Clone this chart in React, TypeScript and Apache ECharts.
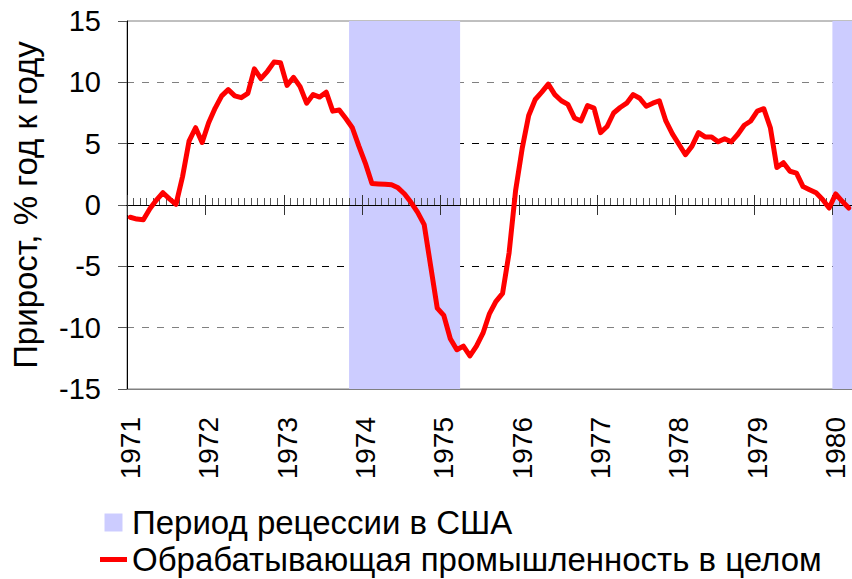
import React, { useEffect, useRef } from 'react';
import * as echarts from 'echarts';

const YEARS = [1971, 1972, 1973, 1974, 1975, 1976, 1977, 1978, 1979, 1980];
const MONTHS = ['01', '02', '03', '04', '05', '06', '07', '08', '09', '10', '11', '12'];

const SERIES_NAME = 'Обрабатывающая промышленность в целом';
const RECESSION_NAME = 'Период рецессии в США';
const Y_TITLE = 'Прирост, % год к году';

// monthly growth, % y/y, Jan 1971 .. Mar 1980
const GROWTH = [
  -1.0, -1.15, -1.2, -0.3, 0.4, 1.0, 0.5, 0.05, 2.3, 5.2, 6.3, 5.1,
  6.7, 7.9, 8.9, 9.4, 8.9, 8.75, 9.1, 11.1, 10.3, 10.9, 11.65, 11.6,
  9.75, 10.4, 9.65, 8.3, 9.0, 8.8, 9.2, 7.65, 7.75, 7.05, 6.3, 4.8,
  3.4, 1.75, 1.72, 1.7, 1.65, 1.4, 0.9, 0.2, -0.6, -1.6, -5.0, -8.4,
  -9.0, -10.9, -11.8, -11.5, -12.3, -11.5, -10.45, -8.85, -7.85, -7.2, -3.9, 1.2,
  4.6, 7.3, 8.6, 9.2, 9.85, 9.0, 8.5, 8.2, 7.1, 6.85, 8.1, 7.9,
  5.9, 6.4, 7.5, 7.95, 8.3, 9.0, 8.7, 8.05, 8.3, 8.5, 6.85, 5.8,
  4.95, 4.1, 4.8, 5.9, 5.55, 5.55, 5.15, 5.4, 5.15, 5.75, 6.5, 6.85,
  7.65, 7.85, 6.3, 3.05, 3.45, 2.75, 2.6, 1.5, 1.25, 1.0, 0.45, -0.25,
  0.9, 0.3, -0.25,
];

// US recession periods (first month, last month)
const RECESSIONS: [string, string][] = [
  ['1973-11', '1975-03'],
  ['1980-01', '1980-03'],
];

const CATEGORIES = YEARS.flatMap((y) => MONTHS.map((m) => `${y}-${m}`)).slice(0, GROWTH.length);

const FONT = "'Liberation Sans', Arial, Helvetica, sans-serif";

export default function App() {
  const ref = useRef<HTMLDivElement>(null);

  useEffect(() => {
    if (!ref.current) return;
    const chart = echarts.init(ref.current, null, { renderer: 'svg' });
    const majorTick = (i: number) => i % 12 === 0;
    const recessionAreas = RECESSIONS.map(([s, e]) => [
      { xAxis: CATEGORIES.indexOf(s) },
      { xAxis: CATEGORIES.indexOf(e) + 1 },
    ]);

    chart.setOption({
      animation: false,
      textStyle: { fontFamily: FONT },
      grid: {
        left: 127,
        top: 21,
        right: 0,
        bottom: 190,
        show: true,
        borderColor: '#808080',
        borderWidth: 1,
        backgroundColor: 'transparent',
        containLabel: false,
        outerBoundsMode: 'none',
      },
      legend: {
        orient: 'vertical',
        left: 100,
        top: 504,
        padding: 0,
        itemGap: 0,
        itemWidth: 27,
        itemHeight: 18,
        selectedMode: false,
        textStyle: { fontSize: 33, color: '#000', lineHeight: 37, fontFamily: FONT },
        data: [
          { name: RECESSION_NAME, icon: 'path://M0,0h18v18h-18z' },
          { name: SERIES_NAME, icon: 'path://M0,0h27v5h-27z' },
        ],
      },
      xAxis: [
        {
          type: 'category',
          data: CATEGORIES,
          boundaryGap: true,
          z: 3,
          axisLine: { show: true, onZero: true, onZeroAxisIndex: 0, lineStyle: { color: '#000', width: 1 } },
          axisTick: { show: true, interval: 0, inside: true, length: 7, lineStyle: { color: '#555' } },
          axisLabel: { show: false },
          splitLine: { show: false },
        },
        {
          type: 'category',
          data: CATEGORIES,
          boundaryGap: true,
          z: 3,
          axisLine: { show: true, onZero: true, onZeroAxisIndex: 0, lineStyle: { color: '#000', width: 1 } },
          axisTick: { show: true, interval: majorTick, inside: true, length: 10, lineStyle: { color: '#333' } },
          axisLabel: { show: false },
          splitLine: { show: false },
        },
        {
          type: 'category',
          data: CATEGORIES,
          boundaryGap: true,
          z: 3,
          axisLine: { show: true, onZero: true, onZeroAxisIndex: 0, lineStyle: { color: '#000', width: 1 } },
          axisTick: { show: true, interval: majorTick, inside: false, length: 10, lineStyle: { color: '#333' } },
          axisLabel: { show: false },
          splitLine: { show: false },
        },
        {
          type: 'category',
          data: CATEGORIES,
          boundaryGap: true,
          position: 'bottom',
          z: 0,
          axisLine: { show: true, onZero: false, lineStyle: { color: '#808080', width: 1 } },
          axisTick: { show: false },
          axisLabel: {
            interval: 11,
            rotate: 90,
            fontSize: 28,
            color: '#000',
            margin: 28,
            fontFamily: FONT,
            formatter: (v: string) => v.slice(0, 4),
          },
          splitLine: { show: false },
        },
        {
          type: 'value',
          min: 0,
          max: CATEGORIES.length,
          show: false,
          axisLine: { onZero: false },
        },
      ],
      yAxis: {
        type: 'value',
        min: -15,
        max: 15,
        interval: 5,
        z: 0,
        name: Y_TITLE,
        nameLocation: 'middle',
        nameRotate: 90,
        nameGap: 85,
        nameTextStyle: { fontSize: 33, color: '#000', fontFamily: FONT },
        axisLine: { show: true, onZero: false, lineStyle: { color: '#000', width: 1 } },
        axisTick: { show: true, length: 9, lineStyle: { color: '#555' } },
        axisLabel: { fontSize: 29, color: '#000', margin: 26, fontFamily: FONT },
        splitLine: {
          show: true,
          showMinLine: true,
          showMaxLine: true,
          lineStyle: {
            type: [7, 8],
            width: 1,
            color: ['rgba(0,0,0,0)', '#808080', '#000', 'rgba(0,0,0,0)', '#000', '#808080', 'rgba(0,0,0,0)'],
          },
        },
      },
      series: [
        {
          name: RECESSION_NAME,
          type: 'line',
          xAxisIndex: 4,
          yAxisIndex: 0,
          data: [],
          z: 1,
          itemStyle: { color: '#CCCCFF' },
          lineStyle: { color: '#CCCCFF' },
          markArea: {
            silent: true,
            itemStyle: { color: '#CCCCFF', opacity: 1 },
            data: recessionAreas,
          },
        },
        {
          name: SERIES_NAME,
          type: 'line',
          xAxisIndex: 0,
          yAxisIndex: 0,
          data: GROWTH,
          symbol: 'none',
          z: 5,
          itemStyle: { color: '#FF0000' },
          lineStyle: { color: '#FF0000', width: 5, join: 'round', cap: 'round' },
        },
      ],
    });

    return () => chart.dispose();
  }, []);

  return (
    <div
      ref={ref}
      style={{ position: 'fixed', left: 0, top: 0, width: 852, height: 579, background: '#fff' }}
    />
  );
}
